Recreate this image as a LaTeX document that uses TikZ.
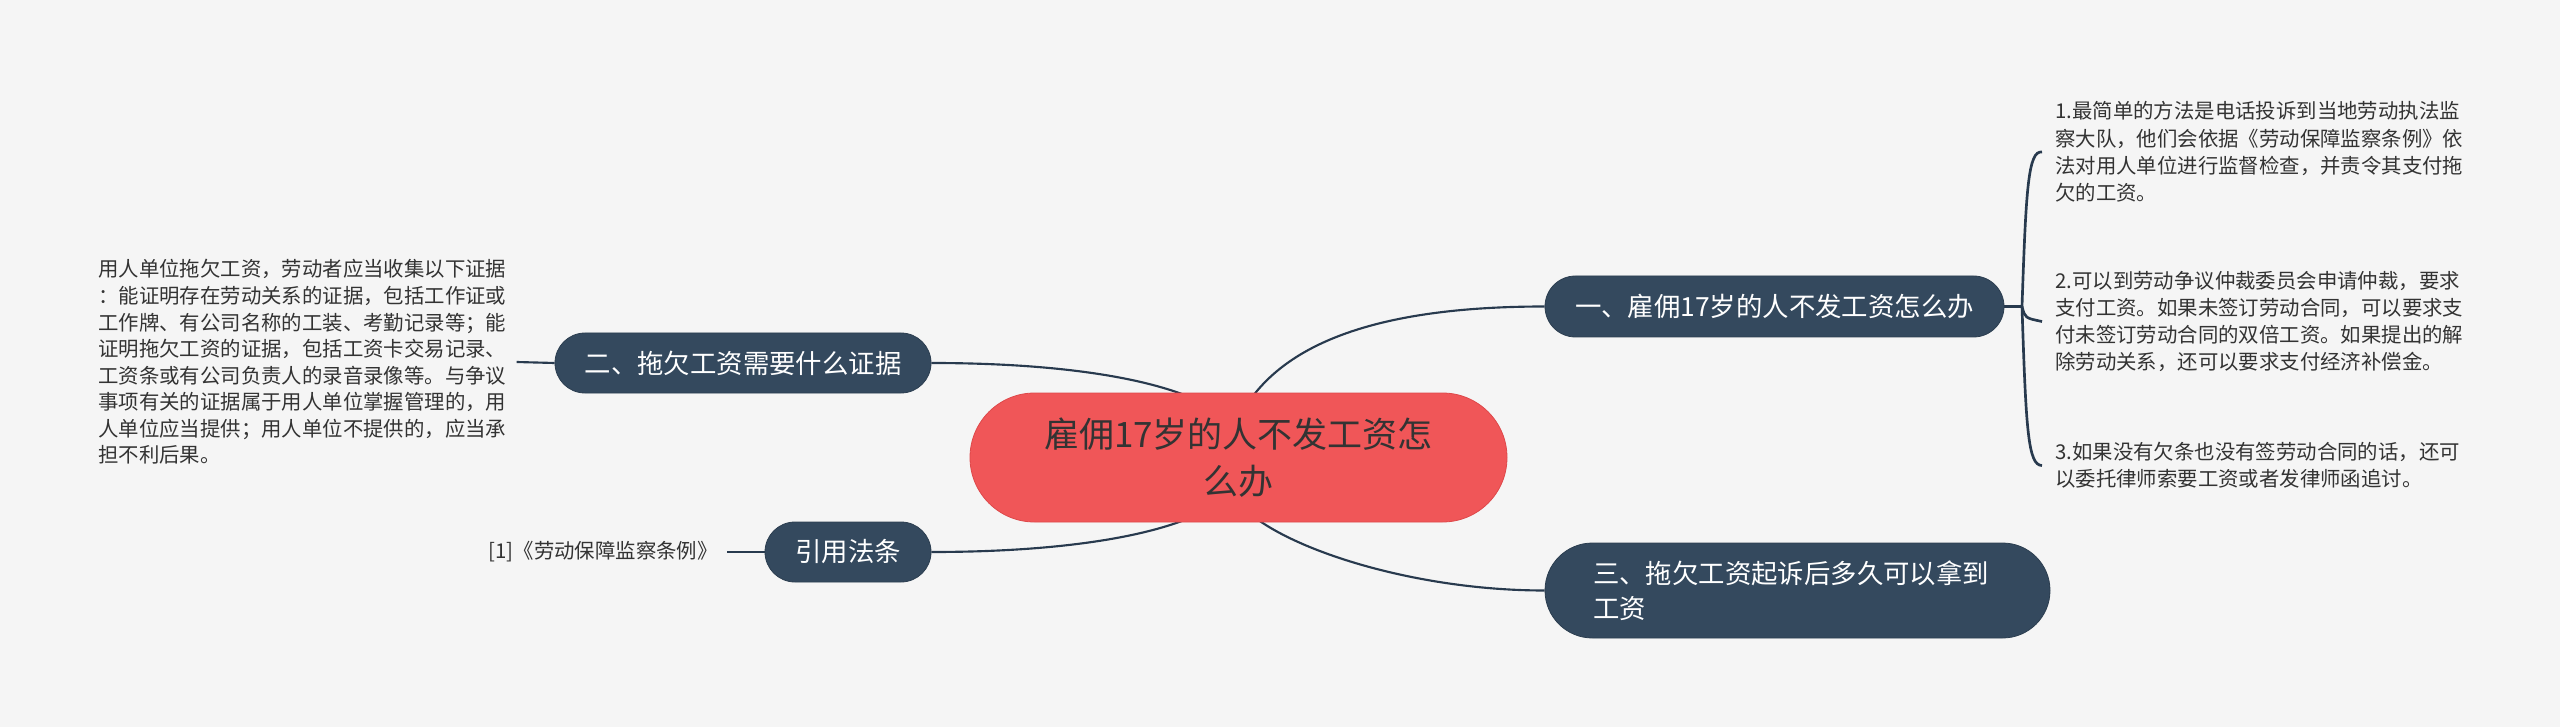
\documentclass[tikz,border=0pt]{standalone}
\usepackage{fontspec}
\setmainfont{Noto Sans CJK SC}
\usetikzlibrary{backgrounds}
\definecolor{bgc}{RGB}{245,245,245}
\definecolor{navy}{RGB}{52,73,94}
\definecolor{navyline}{RGB}{40,58,78}
\definecolor{redc}{RGB}{240,86,88}
\definecolor{redb}{RGB}{222,72,74}
\definecolor{txt}{RGB}{51,51,51}
\begin{document}
\begin{tikzpicture}[x=0.75pt,y=-0.75pt,
  central/.style={draw=redb, line width=0.6pt, fill=redc, text=txt, rounded corners=48.375pt,
    minimum width=402.75pt, minimum height=96.75pt, inner sep=0pt, align=center,
    font=\fontsize{26.25}{35.25}\selectfont},
  branch/.style={draw=navy!85!black, line width=0.6pt, fill=navy, text=white, rounded corners=22.5pt,
    minimum height=45pt, inner sep=0pt, font=\fontsize{19.8}{26.25}\selectfont},
  branchtwo/.style={branch, rounded corners=35.6pt, minimum height=71.25pt, text width=306.75pt,
    inner xsep=36pt, align=left},
  note/.style={inner sep=0pt, text=txt, align=left, font=\fontsize{15.3}{20.4}\selectfont},
  notel/.style={note, font=\fontsize{15.3}{19.9}\selectfont},
  conn/.style={draw=navyline, line width=1.6pt},
  bracestyle/.style={draw=navyline, line width=2pt}
]
\useasboundingbox (0,0) rectangle (2560,727);

\node[central] (c) at (1238.5,457.5) {雇佣17岁的人不发工资怎\\么办};
\node[branch, minimum width=344.25pt, minimum height=45.75pt, rounded corners=22.875pt] (b1) at (1774.5,306.5) {一、雇佣17岁的人不发工资怎么办};
\node[branch, minimum width=282pt] (b2) at (743,363) {二、拖欠工资需要什么证据};
\node[branch, minimum width=124.5pt] (b4) at (848,552) {引用法条};
\node[branchtwo] (b3) at (1797.5,590.5) {三、拖欠工资起诉后多久可以拿到\\工资};

\node[notel, anchor=west] (t2) at (98,362) {用人单位拖欠工资，劳动者应当收集以下证据\\：能证明存在劳动关系的证据，包括工作证或\\工作牌、有公司名称的工装、考勤记录等；能\\证明拖欠工资的证据，包括工资卡交易记录、\\工资条或有公司负责人的录音录像等。与争议\\事项有关的证据属于用人单位掌握管理的，用\\人单位应当提供；用人单位不提供的，应当承\\担不利后果。};
\node[note, anchor=east] (t4) at (718,552) {[1]《劳动保障监察条例》};
\node[note, anchor=west] (i1) at (2055,152) {1.最简单的方法是电话投诉到当地劳动执法监\\察大队，他们会依据《劳动保障监察条例》依\\法对用人单位进行监督检查，并责令其支付拖\\欠的工资。};
\node[note, anchor=west] (i2) at (2055,321.5) {2.可以到劳动争议仲裁委员会申请仲裁，要求\\支付工资。如果未签订劳动合同，可以要求支\\付未签订劳动合同的双倍工资。如果提出的解\\除劳动关系，还可以要求支付经济补偿金。};
\node[note, anchor=west] (i3) at (2055,465.5) {3.如果没有欠条也没有签劳动合同的话，还可\\以委托律师索要工资或者发律师函追讨。};

\coordinate (c1) at (1250,400);
\coordinate (c2) at (1192,398);
\coordinate (c3) at (1253,516);
\coordinate (c4) at (1192,517);
\coordinate (j) at (2022,306.5);

\begin{scope}[on background layer]
  \fill[bgc] (0,0) rectangle (2560,727);
  \draw[conn] (b1.west) .. controls (1400,306.5) and (1297,334) .. (c1);
  \draw[conn] (b2.east) .. controls (1050,363) and (1140,376) .. (c2);
  \draw[conn] (b3.west) .. controls (1420,590.5) and (1300,553) .. (c3);
  \draw[conn] (b4.east) .. controls (1050,552) and (1140,539) .. (c4);
  \draw[conn] (b2.west) -- ([xshift=7.5pt]t2.east);
  \draw[conn] (b4.west) -- ([xshift=6.75pt]t4.east);
  \draw[bracestyle] (b1.east) -- (j);
  \draw[bracestyle] (j) .. controls (2026,190) and (2028,150) .. ([xshift=-9.75pt]i1.west);
  \draw[bracestyle] (j) .. controls (2025,318) .. ([xshift=-9.75pt]i2.west);
  \draw[bracestyle] (j) .. controls (2026,430) and (2028,465.5) .. ([xshift=-9.75pt]i3.west);
\end{scope}
\end{tikzpicture}
\end{document}
